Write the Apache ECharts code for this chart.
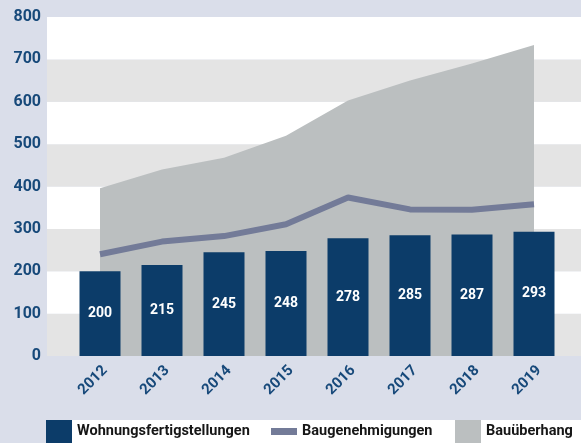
<!DOCTYPE html>
<html>
<head>
<meta charset="utf-8">
<script src="https://cdn.jsdelivr.net/npm/echarts@6/dist/echarts.min.js"></script>
<style>
  html, body { margin: 0; padding: 0; background: #dadeea; }
  #main { width: 581px; height: 443px; }
</style>
</head>
<body>
<div id="main"></div>
<script>
// Daten
const years = ["2012", "2013", "2014", "2015", "2016", "2017", "2018", "2019"];
const fertigstellungen = [200, 215, 245, 248, 278, 285, 287, 293];
const genehmigungen = [240, 270, 283, 311, 374, 346, 345, 358];
const ueberhang = [396, 440, 468, 520, 603, 650, 690, 734];
const yTicks = [0, 800, 100]; // min, max, interval

const blue = "#0c3c69";
const lila = "#737b98";
const grau = "#bbbfc0";
const font = "Roboto";

const chart = echarts.init(document.getElementById("main"));

const legendText = { color: "#161616", fontWeight: "bold", fontSize: 14.5, fontFamily: font };

const option = {
  backgroundColor: "#dadeea",
  animation: false,
  textStyle: { fontFamily: font },
  graphic: [
    // weisser Streifen hinter der Legende
    { type: "rect", shape: { x: 72, y: 420, width: 509, height: 23 }, style: { fill: "#ffffff" }, z: -1 }
  ],
  grid: [
    // Hintergrund mit Streifen
    { left: 47, right: 0, top: 17, bottom: 87 },
    // Daten
    { left: 69, width: 496, top: 17, bottom: 87 }
  ],
  xAxis: [
    { type: "category", gridIndex: 0, data: years, show: false },
    {
      type: "category",
      gridIndex: 1,
      data: years,
      axisLine: { show: false },
      axisTick: { show: false },
      axisLabel: {
        rotate: 45,
        margin: 7,
        verticalAlign: "top",
        color: "#17497a",
        fontWeight: "bold",
        fontSize: 15,
        fontFamily: font
      }
    }
  ],
  yAxis: [
    {
      type: "value",
      gridIndex: 0,
      min: yTicks[0],
      max: yTicks[1],
      interval: yTicks[2],
      axisLine: { show: false },
      axisTick: { show: false },
      splitLine: { show: false },
      splitArea: { show: true, areaStyle: { color: ["#e4e4e4", "#ffffff"] } },
      axisLabel: {
        margin: 6,
        color: "#17497a",
        fontWeight: "bold",
        fontSize: 16,
        fontFamily: font
      }
    },
    {
      type: "value",
      gridIndex: 1,
      min: yTicks[0],
      max: yTicks[1],
      interval: yTicks[2],
      show: false,
      splitLine: { show: false }
    }
  ],
  legend: [
    {
      data: ["Wohnungsfertigstellungen"],
      left: 46, top: 420, padding: 0,
      itemWidth: 26, itemHeight: 23,
      icon: "rect",
      textStyle: legendText
    },
    {
      data: [{ name: "Baugenehmigungen", icon: "path://M0,0L0,0M0,8H26V15H0ZM26,23L26,23", itemStyle: { color: lila } }],
      left: 271, top: 420, padding: 0,
      itemWidth: 26, itemHeight: 23,
      textStyle: legendText
    },
    {
      data: ["Bauüberhang"],
      left: 455, top: 420, padding: 0,
      itemWidth: 26, itemHeight: 23,
      icon: "rect",
      textStyle: legendText
    }
  ],
  series: [
    {
      name: "Bauüberhang",
      type: "line",
      xAxisIndex: 1,
      yAxisIndex: 1,
      data: ueberhang,
      symbol: "none",
      lineStyle: { width: 0 },
      itemStyle: { color: grau },
      areaStyle: { color: grau, opacity: 1 },
      z: 1
    },
    {
      name: "Baugenehmigungen",
      type: "line",
      xAxisIndex: 1,
      yAxisIndex: 1,
      data: genehmigungen,
      symbol: "none",
      lineStyle: { width: 6, color: lila },
      itemStyle: { color: lila },
      z: 2
    },
    {
      name: "Wohnungsfertigstellungen",
      type: "bar",
      xAxisIndex: 1,
      yAxisIndex: 1,
      data: fertigstellungen,
      barWidth: 41,
      itemStyle: { color: blue },
      label: {
        show: true,
        position: "inside",
        color: "#ffffff",
        fontWeight: "bold",
        fontSize: 14,
        fontFamily: font
      },
      z: 3
    }
  ]
};

chart.setOption(option);
</script>
</body>
</html>
